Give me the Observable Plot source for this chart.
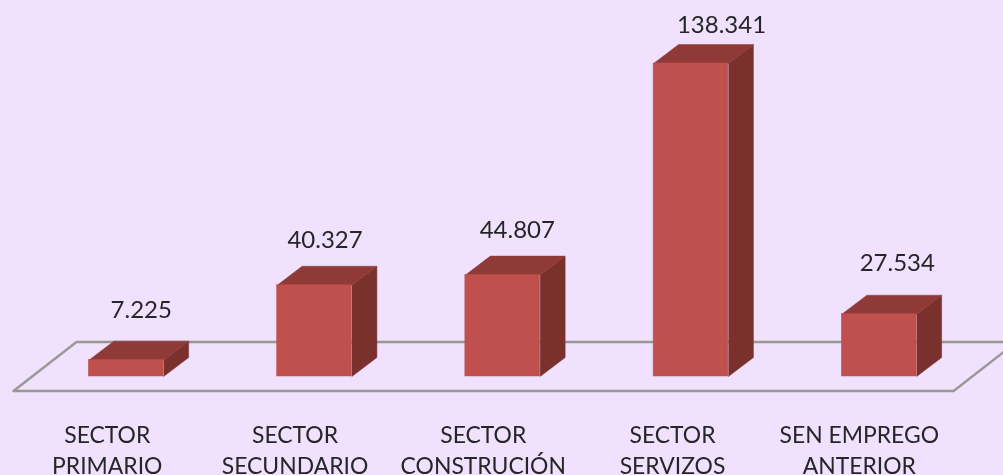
<!DOCTYPE html>
<html><head><meta charset="utf-8">
<script src="https://cdn.jsdelivr.net/npm/d3@7"></script>
<script src="https://cdn.jsdelivr.net/npm/@observablehq/plot@0.6"></script>
<style>
html,body{margin:0;padding:0;background:#F0E1FF;overflow:hidden}
svg{display:block;filter:blur(0.35px)}
</style></head><body>
<div id="chart"></div>
<script>
const categories = ["SECTOR\nPRIMARIO","SECTOR\nSECUNDARIO","SECTOR\nCONSTRUCIÓN","SECTOR\nSERVIZOS","SEN EMPREGO\nANTERIOR"];
const values = [7225,40327,44807,138341,27534];
const valueLabels = ["7.225","40.327","44.807","138.341","27.534"];

// layout in scale units: one x unit = one category step; y units are the value axis
const W = 1003, H = 475, step = 188.25, x0 = 125.75, base = 376, k = 138341/313;
const px = p => p/step, py = p => p*k;
const half = px(37.4), depthX = px(25), depthY = py(19);
const labelShift = [-19,-19.5,-19.5,-18.5,-20].map(px);
const valShift = [15,10.5,14.5,30.5,18].map(px);
const valLift = [31,26,26,19,32].map(py);
const rows = categories.map((c,i)=>({c,i,v:values[i],t:valueLabels[i]}));

const floorPts = [[-0.599,-py(14.5)],[4.395,-py(14.5)],[4.395+px(63),py(34.5)],[-0.599+px(63),py(34.5)],[-0.599,-py(14.5)]];
const sideFaces = rows.flatMap(d=>[[d.i+half,0],[d.i+half+depthX,depthY],[d.i+half+depthX,d.v+depthY],[d.i+half,d.v]].map(p=>({x:p[0],y:p[1],z:d.i})));
const topFaces = rows.flatMap(d=>[[d.i-half,d.v],[d.i-half+depthX,d.v+depthY],[d.i+half+depthX,d.v+depthY],[d.i+half,d.v]].map(p=>({x:p[0],y:p[1],z:d.i})));

const plot = Plot.plot({
  width:W, height:H, margin:0,
  style:{background:"#F0E1FF", color:"#262626"},
  x:{domain:[-x0/step,(W-x0)/step], range:[0,W], axis:null},
  y:{domain:[-(H-base)*k, base*k], range:[H,0], axis:null},
  marks:[
    Plot.line(floorPts,{x:d=>d[0],y:d=>d[1],stroke:"#999993",strokeWidth:2.4,clip:true,curve:"linear"}),
    Plot.line(sideFaces,{x:"x",y:"y",z:"z",fill:"#7A302D",stroke:"#7A302D",strokeWidth:0.5}),
    Plot.line(topFaces,{x:"x",y:"y",z:"z",fill:"#8F3A37",stroke:"#8F3A37",strokeWidth:0.5}),
    Plot.rect(rows,{x1:d=>d.i-half,x2:d=>d.i+half,y1:0,y2:"v",fill:"#C0504D",stroke:"#C0504D",strokeWidth:0.5}),
    Plot.text(rows,{x:d=>d.i+valShift[d.i],y:d=>d.v+depthY+valLift[d.i],text:"t",fontFamily:"Lato",fontSize:24,fill:"#262626"}),
    Plot.text(rows,{x:d=>d.i+labelShift[d.i],y:-py(72),text:"c",lineHeight:1.38,fontFamily:"Lato",fontSize:22.9,fill:"#262626"})
  ]
});
document.getElementById("chart").append(plot);
</script>
</body></html>
